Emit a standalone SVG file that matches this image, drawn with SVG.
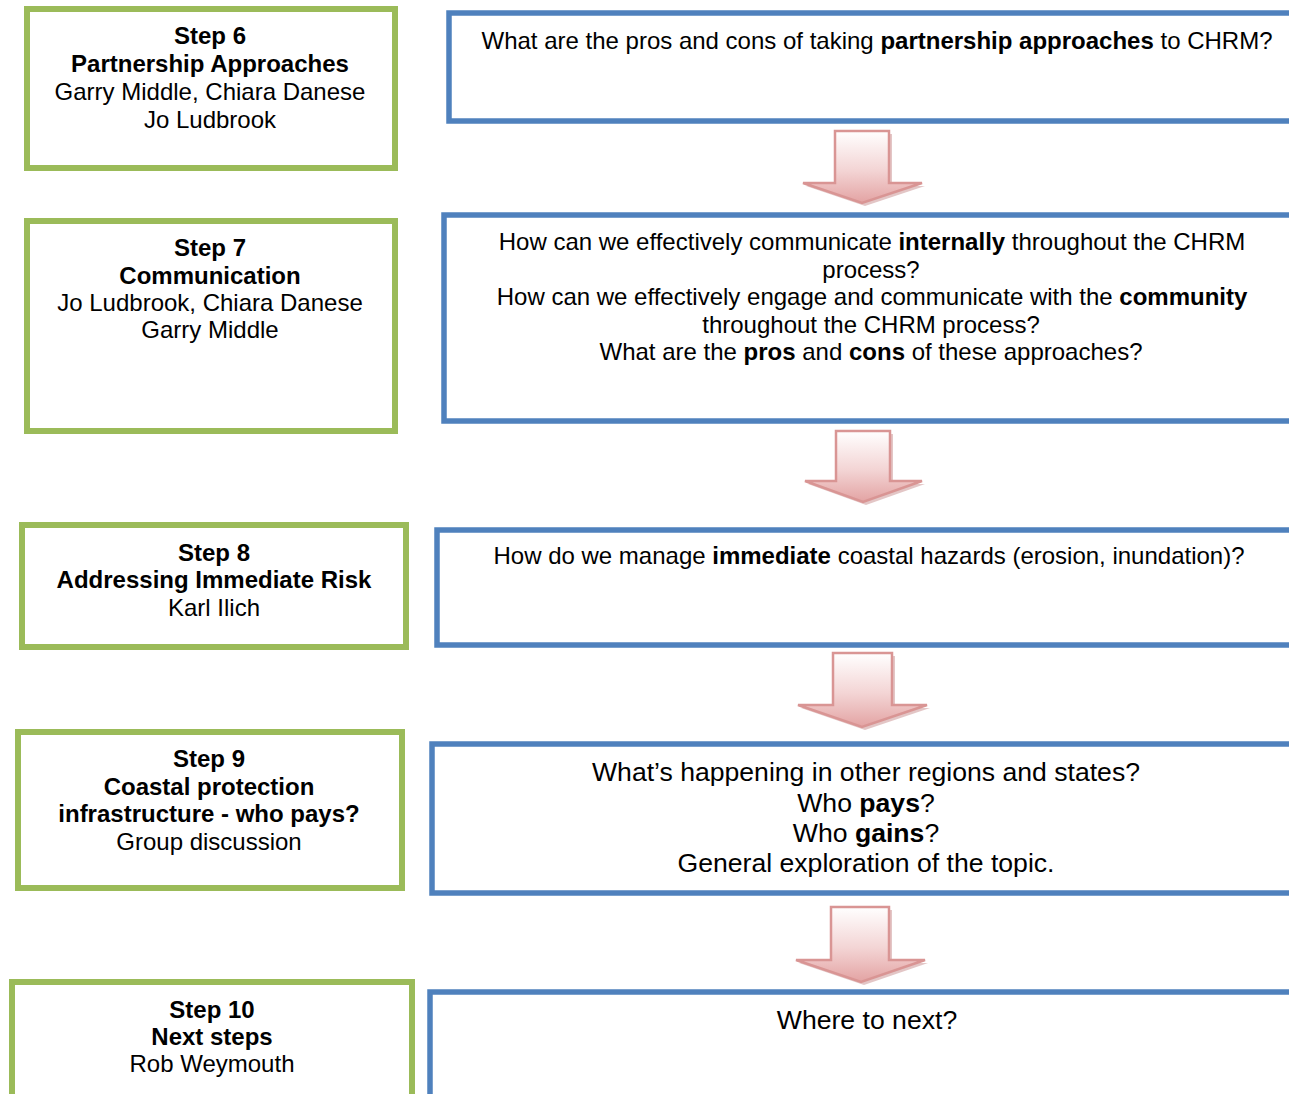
<svg xmlns="http://www.w3.org/2000/svg" width="1289" height="1094" viewBox="0 0 1289 1094">
<defs>
<linearGradient id="ag" x1="0" y1="0" x2="0" y2="1">
<stop offset="0" stop-color="#ffffff"/>
<stop offset="0.55" stop-color="#f3d4d4"/>
<stop offset="1" stop-color="#e3a3a3"/>
</linearGradient>
<style>
.g{fill:#fff;stroke:#9BBB59;stroke-width:6}
.b{fill:#fff;stroke:#4F81BD;stroke-width:5.5}
text{font-family:"Liberation Sans",Arial,sans-serif;font-size:24px;fill:#000;text-anchor:middle}
.bd{font-weight:bold}
.lg{font-size:26.6px}
.arr{fill:url(#ag);stroke:#d99594;stroke-width:2.5;stroke-linejoin:miter}
.sh{fill:#c08080;opacity:0.45}
</style>
</defs>
<rect width="1289" height="1094" fill="#fff"/>
<g id="step6">
<rect class="g" x="27" y="9" width="368" height="159"/>
<text x="210" y="44" class="bd">Step 6</text>
<text x="210" y="72" class="bd">Partnership Approaches</text>
<text x="210" y="100">Garry Middle, Chiara Danese</text>
<text x="210" y="128">Jo Ludbrook</text>
</g>
<g id="q6">
<rect class="b" x="449" y="13" width="860" height="108"/>
<text x="877" y="49">What are the pros and cons of taking <tspan class="bd">partnership approaches</tspan> to CHRM?</text>
</g>
<g id="step7">
<rect class="g" x="27" y="221" width="368" height="210"/>
<text x="210" y="256" class="bd">Step 7</text>
<text x="210" y="284" class="bd">Communication</text>
<text x="210" y="311">Jo Ludbrook, Chiara Danese</text>
<text x="210" y="338">Garry Middle</text>
</g>
<g id="q7">
<rect class="b" x="444" y="215" width="870" height="206"/>
<text x="872" y="250">How can we effectively communicate <tspan class="bd">internally</tspan> throughout the CHRM</text>
<text x="871" y="278">process?</text>
<text x="872" y="305">How can we effectively engage and communicate with the <tspan class="bd">community</tspan></text>
<text x="871" y="333">throughout the CHRM process?</text>
<text x="871" y="360">What are the <tspan class="bd">pros</tspan> and <tspan class="bd">cons</tspan> of these approaches?</text>
</g>
<g id="step8">
<rect class="g" x="22" y="525" width="384" height="122"/>
<text x="214" y="561" class="bd">Step 8</text>
<text x="214" y="588" class="bd">Addressing Immediate Risk</text>
<text x="214" y="616">Karl Ilich</text>
</g>
<g id="q8">
<rect class="b" x="437" y="530" width="870" height="115"/>
<text x="869" y="564">How do we manage <tspan class="bd">immediate</tspan> coastal hazards (erosion, inundation)?</text>
</g>
<g id="step9">
<rect class="g" x="18" y="732" width="384" height="156"/>
<text x="209" y="767" class="bd">Step 9</text>
<text x="209" y="795" class="bd">Coastal protection</text>
<text x="209" y="822" class="bd">infrastructure - who pays?</text>
<text x="209" y="850">Group discussion</text>
</g>
<g id="q9">
<rect class="b" x="432" y="744" width="880" height="149"/>
<text x="866" y="781" class="lg">What’s happening in other regions and states?</text>
<text x="866" y="812" class="lg">Who <tspan class="bd">pays</tspan>?</text>
<text x="866" y="842" class="lg">Who <tspan class="bd">gains</tspan>?</text>
<text x="866" y="872" class="lg">General exploration of the topic.</text>
</g>
<g id="step10">
<rect class="g" x="12" y="982" width="400" height="120"/>
<text x="212" y="1018" class="bd">Step 10</text>
<text x="212" y="1045" class="bd">Next steps</text>
<text x="212" y="1072">Rob Weymouth</text>
</g>
<g id="q10">
<rect class="b" x="430" y="992" width="880" height="120"/>
<text x="867" y="1029" class="lg">Where to next?</text>
</g>
<g id="connectors">
<g>
<path class="sh" d="M838 134H892V186H925L865 206L806 186H838Z"/>
<path class="arr" d="M835 131H889V183H922L862 203L803 183H835Z"/>
</g>
<g>
<path class="sh" d="M839 434H893V484H925L866 505L808 484H839Z"/>
<path class="arr" d="M836 431H890V481H922L863 502L805 481H836Z"/>
</g>
<g>
<path class="sh" d="M836 656H895V708H930L865 730L801 708H836Z"/>
<path class="arr" d="M833 653H892V705H927L862 727L798 705H833Z"/>
</g>
<g>
<path class="sh" d="M834 910H892V963H928L864 985L799 963H834Z"/>
<path class="arr" d="M831 907H889V960H925L861 982L796 960H831Z"/>
</g>
</g>
</svg>
